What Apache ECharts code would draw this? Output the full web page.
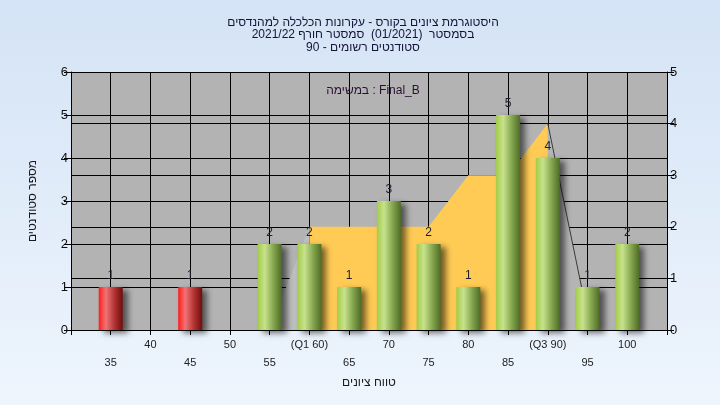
<!DOCTYPE html>
<html>
<head>
<meta charset="utf-8">
<script src="https://cdn.jsdelivr.net/npm/echarts@6/dist/echarts.min.js"></script>
<style>
html,body{margin:0;padding:0;width:720px;height:405px;overflow:hidden;}
#chart{width:720px;height:405px;}
</style>
</head>
<body>
<div id="chart"></div>
<script>
// ---- data ----
const gradeBins = [35, 45, 55, 60, 65, 70, 75, 80, 85, 90, 95, 100];
const studentCounts = [1, 1, 2, 2, 1, 3, 2, 1, 5, 4, 1, 2];
const passMark = 55;

const tickValues = [35, 40, 45, 50, 55, 60, 65, 70, 75, 80, 85, 90, 95, 100];
const tickLabels = ['35', '40', '45', '50', '55', '(Q1 60)', '65', '70', '75', '80', '85', '(Q3 90)', '95', '100'];

const leftTailX = [55, 60];
const leftTailY = [0, 2];
const iqrX = [60, 65, 70, 75, 80, 85, 90];
const iqrY = [2, 2, 2, 2, 3, 3, 4];
const rightTailX = [90, 95];
const rightTailY = [4, 0.27];

const titleLines = [
  'היסטוגרמת ציונים בקורס - עקרונות הכלכלה למהנדסים',
  'בסמסטר  (01/2021)  סמסטר חורף 2021/22',
  'סטודנטים רשומים - 90'
];
const subTitle = 'במשימה : Final_B';
const xAxisName = 'טווח ציונים';
const yAxisName = 'מספר סטודנטים';

const FONT = '"Liberation Sans", Arial, sans-serif';

const redGrad = new echarts.graphic.LinearGradient(0, 0, 1, 0, [
  {offset: 0, color: '#ff1c1c'},
  {offset: 0.3, color: '#f07474'},
  {offset: 0.65, color: '#b43434'},
  {offset: 1, color: '#6e0c0c'}
]);
const greenGrad = new echarts.graphic.LinearGradient(0, 0, 1, 0, [
  {offset: 0, color: '#a2cc48'},
  {offset: 0.3, color: '#c8e28c'},
  {offset: 0.65, color: '#86a750'},
  {offset: 1, color: '#4e6c26'}
]);

const barData = gradeBins.map((g, i) => ({
  value: [g, studentCounts[i]],
  itemStyle: {color: g < passMark ? redGrad : greenGrad}
}));

const chart = echarts.init(document.getElementById('chart'), null, {renderer: 'canvas'});
chart.setOption({
  animation: false,
  backgroundColor: new echarts.graphic.LinearGradient(0, 0, 0, 1, [
    {offset: 0, color: '#d4e3f5'},
    {offset: 1, color: '#eef5fd'}
  ]),
  textStyle: {fontFamily: FONT},
  title: [{
    text: titleLines.join('\n'),
    left: 358, top: 11, textAlign: 'center',
    textStyle: {fontSize: 12, fontWeight: 'normal', color: '#141438', lineHeight: 12.5, fontFamily: FONT}
  }, {
    text: subTitle,
    left: 368, top: 80, textAlign: 'center',
    textStyle: {fontSize: 12, fontWeight: 'normal', color: '#2a1030', fontFamily: FONT}
  }],
  grid: {left: 71, right: 53, top: 72, bottom: 75, show: true, backgroundColor: '#b3b3b3', borderWidth: 0},
  xAxis: {
    type: 'value', min: 30, max: 105, interval: 5,
    name: xAxisName, nameLocation: 'middle', nameGap: 45,
    nameTextStyle: {fontSize: 12, color: '#1a1a1a', fontFamily: FONT},
    axisLine: {show: true, onZero: false, lineStyle: {color: '#000', width: 1}},
    axisTick: {show: true, length: 5, lineStyle: {color: '#000'}},
    splitLine: {show: true, lineStyle: {color: '#000', width: 1}},
    axisLabel: {
      margin: 6, fontSize: 11, color: '#222', lineHeight: 18,
      showMinLabel: true, showMaxLabel: true,
      formatter: function (v) {
        const i = tickValues.indexOf(v);
        if (i < 0) return '';
        return (v % 10 === 5) ? '\n' + tickLabels[i] : tickLabels[i];
      }
    }
  },
  yAxis: [{
    type: 'value', min: 0, max: 6, interval: 1, position: 'left',
    name: yAxisName, nameLocation: 'middle', nameGap: 32,
    nameTextStyle: {fontSize: 12, color: '#1a1a1a', fontFamily: FONT},
    axisLine: {show: true, lineStyle: {color: '#000'}},
    axisTick: {show: true, length: 7, lineStyle: {color: '#000'}},
    splitLine: {show: true, lineStyle: {color: '#000', width: 1}},
    axisLabel: {margin: 3, fontSize: 13, color: '#111'}
  }, {
    type: 'value', min: 0, max: 5, interval: 1, position: 'right',
    axisLine: {show: true, lineStyle: {color: '#000'}},
    axisTick: {show: true, length: 7, lineStyle: {color: '#000'}},
    splitLine: {show: true, lineStyle: {color: '#000', width: 1}},
    axisLabel: {margin: 3, fontSize: 13, color: '#111'}
  }],
  series: [{
    type: 'line', yAxisIndex: 1, silent: true, z: 1,
    data: leftTailX.map((x, i) => [x, leftTailY[i]]),
    showSymbol: false, symbol: 'none',
    lineStyle: {width: 0},
    areaStyle: {color: '#bebebe', opacity: 1}
  }, {
    type: 'line', yAxisIndex: 1, silent: true, z: 1,
    data: iqrX.map((x, i) => [x, iqrY[i]]),
    showSymbol: false, symbol: 'none',
    lineStyle: {width: 0},
    areaStyle: {color: '#ffcb55', opacity: 1}
  }, {
    type: 'line', yAxisIndex: 1, silent: true, z: 1,
    data: rightTailX.map((x, i) => [x, rightTailY[i]]),
    showSymbol: false, symbol: 'none',
    lineStyle: {width: 1, color: '#3a3a3a'},
    areaStyle: {color: '#b5b5b5', opacity: 1}
  }, {
    type: 'bar', yAxisIndex: 0, z: 5,
    barWidth: 24,
    data: barData,
    itemStyle: {
      shadowColor: 'rgba(0,0,0,0.55)', shadowBlur: 6, shadowOffsetX: 5, shadowOffsetY: 3
    },
    label: {show: true, position: 'top', distance: 5, fontSize: 12, color: '#1e1e2e', fontFamily: FONT}
  }]
});
</script>
</body>
</html>
